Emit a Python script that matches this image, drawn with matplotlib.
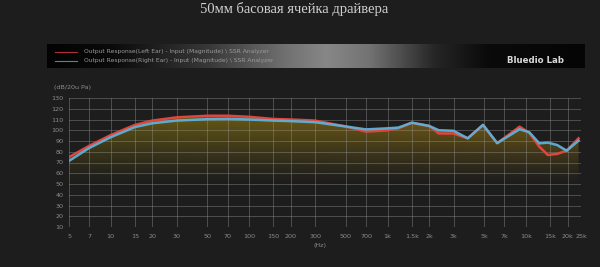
import numpy as np
import matplotlib
matplotlib.use("Agg")
import matplotlib.pyplot as plt

# ---- data ----
title = "50мм басовая ячейка драйвера"
freq = [5, 7, 10, 15, 20, 30, 50, 70, 100, 150, 200, 300, 500, 700, 1000, 1200,
        1500, 2000, 2350, 3000, 3800, 4900, 6200, 9000, 10600, 12500, 14400,
        16800, 19700, 24000]
left_ear = [75, 85.5, 95.5, 105, 109, 112, 113.5, 113.5, 112.5, 110.5, 110, 109,
            103.5, 98.7, 100, 101.8, 107, 104, 97, 97, 92.5, 105, 88, 103.3, 97.5,
            84.7, 77, 78, 81, 92.5]
right_ear = [71.5, 83.5, 93.5, 103, 106.5, 109, 110.3, 110.5, 110, 109, 108.5,
             107.5, 103.5, 100.8, 101.8, 102.5, 107, 104, 100, 99.5, 92.5, 105, 88,
             101, 98, 87.8, 88.5, 86.3, 81, 90.3]
xticks = [5, 7, 10, 15, 20, 30, 50, 70, 100, 150, 200, 300, 500, 700, 1000, 1500,
          2000, 3000, 5000, 7000, 10000, 15000, 20000, 25000]
xticklabels = ["5", "7", "10", "15", "20", "30", "50", "70", "100", "150", "200",
               "300", "500", "700", "1k", "1.5k", "2k", "3k", "5k", "7k", "10k",
               "15k", "20k", "25k"]
yticks = list(range(10, 131, 10))
legend_labels = ["Output Response(Left Ear) - Input (Magnitude) \\ SSR Analyzer",
                 "Output Response(Right Ear) - Input (Magnitude) \\ SSR Analyzer"]

BG = "#1d1d1d"
fig = plt.figure(figsize=(6, 2.67), dpi=100, facecolor=BG)

# title
fig.text(0.49, 1 - 9 / 267, title, ha="center", va="center",
         family=["Liberation Serif", "DejaVu Serif"], fontsize=10.5, color="#d0d0d0")

# legend band
band = fig.add_axes([47 / 600, 1 - 68 / 267, 538 / 600, 24 / 267])
xs = np.linspace(0, 1, 400)
pts = [0, 0.12, 0.3, 0.45, 0.52, 0.6, 0.72, 0.82, 1.0]
lev = [0.01, 0.04, 0.22, 0.45, 0.53, 0.45, 0.15, 0.04, 0.02]
g = np.interp(xs, pts, lev)
img = np.stack([g, g, g], axis=-1)[None, :, :]
img = np.repeat(img, 10, axis=0)
band.imshow(img, aspect="auto", extent=[0, 1, 0, 1])
band.set_xlim(0, 1)
band.set_ylim(0, 1)
band.axis("off")
band.plot([8 / 538, 30 / 538], [0.68, 0.68], color="#b0303a", lw=0.8)
band.plot([8 / 538, 30 / 538], [0.30, 0.30], color="#3a9a78", lw=0.8)
band.text(37 / 538, 0.68, legend_labels[0], fontsize=4.3, color="#9a9a9a", va="center")
band.text(37 / 538, 0.30, legend_labels[1], fontsize=4.3, color="#9a9a9a", va="center")
band.text(0.855, 0.3, "Bluedio Lab", fontsize=6.2, fontweight="bold",
          color="#d8d8d8", va="center")

# main axes
ax = fig.add_axes([69 / 600, 1 - 227 / 267, (581 - 69) / 600, (227 - 98) / 267])
ax.set_facecolor(BG)
ax.set_xscale("log")
ax.set_xlim(5, 25000)
ax.set_ylim(10, 130)

# gradient fill under curves
env = np.maximum(left_ear, right_ear)
poly = ax.fill_between(freq, env, 10, color="none", lw=0)
ny, nx = 200, 200
yy = np.linspace(0, 1, ny)[:, None]
xx = np.linspace(0, 1, nx)[None, :]
val = 10 + 120 * yy
alpha = np.clip((val - 50) / 60, 0, 1) ** 1.2 * 0.7
alpha = np.repeat(alpha, nx, axis=1)
r = 0.46 + 0.14 * xx + 0 * yy
gch = 0.41 + 0.05 * xx + 0 * yy
b = 0.07 + 0 * xx + 0 * yy
rgba = np.dstack([r, gch, b, alpha])
im = ax.imshow(rgba, origin="lower", extent=[0, 1, 0, 1], transform=ax.transAxes,
               aspect="auto", zorder=1)
for p in poly.get_paths():
    im.set_clip_path(p, transform=ax.transData)

ax.set_xticks(xticks)
ax.set_xticklabels(xticklabels)
ax.xaxis.set_minor_locator(matplotlib.ticker.NullLocator())
ax.set_yticks(yticks)
ax.tick_params(axis="both", length=0, labelsize=4.6, labelcolor="#8c8c8c")
ax.tick_params(axis="y", pad=4)
ax.tick_params(axis="x", pad=5)
ax.grid(True, color="#9a9a9a", alpha=0.45, lw=0.6, zorder=2)
ax.set_axisbelow(False)
for s in ax.spines.values():
    s.set_visible(False)

ax.plot(freq, left_ear, color="#e0463c", lw=1.8, zorder=3, solid_joinstyle="round")
ax.plot(freq, right_ear, color="#5fb0d8", lw=1.8, zorder=4, solid_joinstyle="round",
        alpha=0.95)

fig.text(54 / 600, 1 - 87 / 267, "(dB/20u Pa)", fontsize=4.6, color="#8c8c8c",
         va="center")
fig.text(320 / 600, 1 - 245 / 267, "(Hz)", fontsize=4.6, color="#8c8c8c",
         ha="center", va="center")

fig.savefig("out.png", dpi=100, facecolor=BG)
